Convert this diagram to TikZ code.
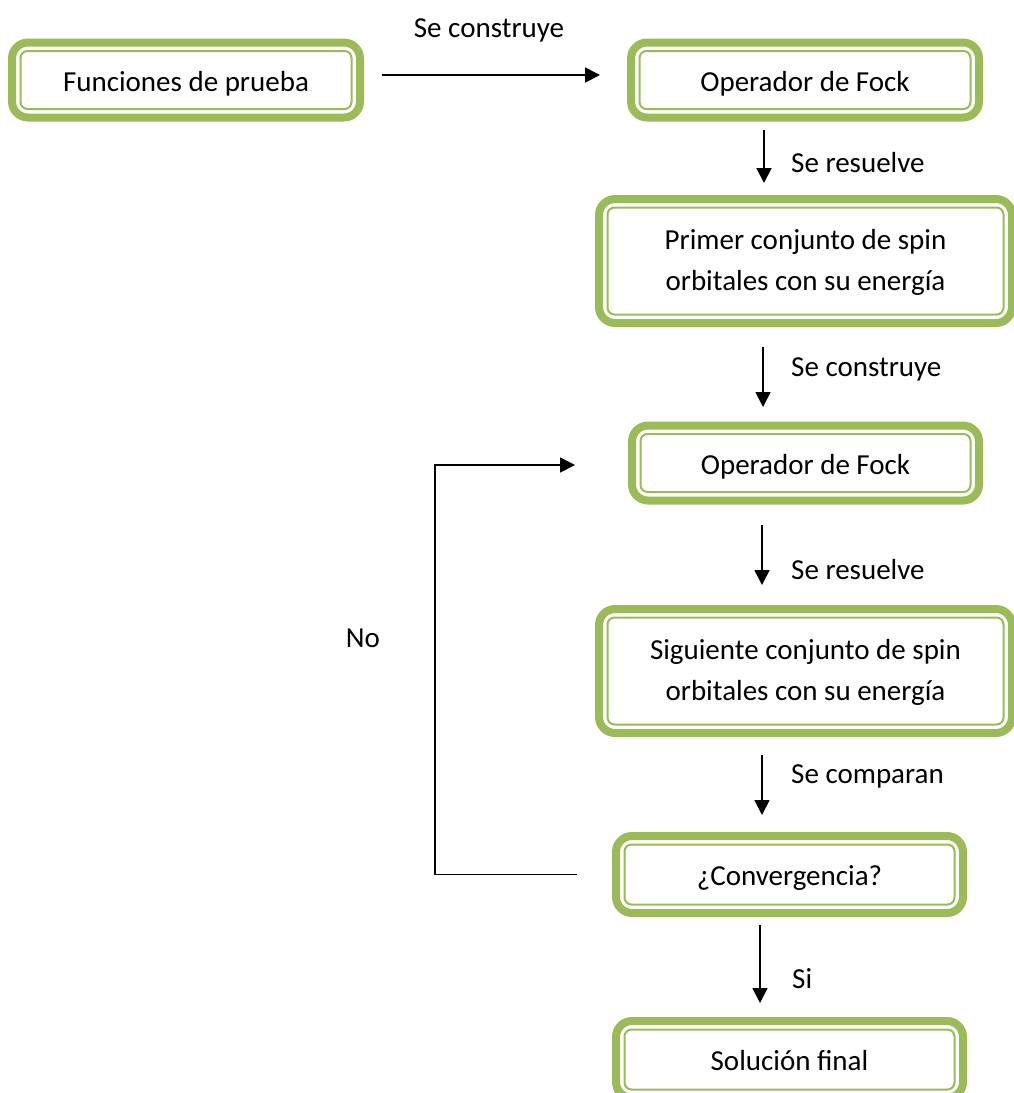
\documentclass[tikz,border=0pt]{standalone}
\usepackage{fontspec}
\setmainfont{Carlito}
\usetikzlibrary{arrows.meta}
\definecolor{boxgreen}{HTML}{9BBB59}
\tikzset{
  every node/.style={font=\fontsize{29pt}{39pt}\selectfont},
  box/.style={draw=boxgreen, line width=8pt, rounded corners=16pt, inner sep=0pt, outer sep=0pt,
    align=center, text height=26pt, text depth=4pt, fill=white},
  twoline/.style={font=\fontsize{29pt}{41pt}\selectfont, text height=63pt},
  innerbox/.style={draw=boxgreen, line width=2pt, rounded corners=7pt},
  arr/.style={line width=1.8pt, -{Triangle[length=15pt,width=15pt]}},
  lbl/.style={inner sep=0pt, anchor=base west}
}
\begin{document}
\begin{tikzpicture}[x=1pt,y=-1pt]
\useasboundingbox (0,0) rectangle (1014,1093);
\node[box, minimum width=348pt, minimum height=75pt] (b1) at (186,80) {Funciones de prueba};
\node[box, minimum width=348pt, minimum height=75pt] (b2) at (805,80) {Operador de Fock};
\node[box, twoline, minimum width=413pt, minimum height=124pt] (b3) at (805.5,261) {Primer conjunto de spin\\orbitales con su energía};
\node[box, minimum width=347pt, minimum height=75pt] (b4) at (805.5,463) {Operador de Fock};
\node[box, twoline, minimum width=413pt, minimum height=124pt] (b5) at (805.5,671) {Siguiente conjunto de spin\\orbitales con su energía};
\node[box, minimum width=347pt, minimum height=77pt] (b6) at (789.5,874.5) {¿Convergencia?};
\node[box, minimum width=347pt, minimum height=77pt] (b7) at (789.5,1059.5) {Solución final};
\foreach \n in {b1,b2,b3,b4,b5,b6,b7}
  \draw[innerbox] ([shift={(8.5pt,-8.5pt)}]\n.north west) rectangle ([shift={(-8.5pt,8.5pt)}]\n.south east);
\coordinate (c1) at (435,874.5);
\coordinate (c2) at (435,465);
\draw[arr, shorten <=22pt, shorten >=31pt] ([yshift=5pt]b1.east) -- ([yshift=5pt]b2.west);
\draw[arr, shorten <=12pt, shorten >=16pt] ([xshift=-41pt]b2.south) -- ([xshift=-41.5pt]b3.north);
\draw[arr, shorten <=24pt, shorten >=18.5pt] ([xshift=-42.5pt]b3.south) -- ([xshift=-42.5pt]b4.north);
\draw[arr, shorten <=24.5pt, shorten >=24pt] ([xshift=-43.5pt]b4.south) -- ([xshift=-43.5pt]b5.north);
\draw[arr, shorten <=22pt, shorten >=21pt] ([xshift=-43.5pt]b5.south) -- ([xshift=-27.5pt]b6.north);
\draw[arr, shorten <=12pt, shorten >=18pt] ([xshift=-29.5pt]b6.south) -- ([xshift=-29.5pt]b7.north);
\draw[arr, shorten <=39pt, shorten >=57pt] (b6.west) -- (c1) -- (c2) -- ([yshift=-2pt]b4.west);
\node[inner sep=0pt, anchor=base] (l1) at (489,37) {Se construye};
\node[lbl] (l2) at (791,172) {Se resuelve};
\node[lbl] (l3) at (791,376) {Se construye};
\node[lbl] (l4) at (791,579) {Se resuelve};
\node[lbl] (l5) at (791,783) {Se comparan};
\node[lbl] (l6) at (792,988) {Si};
\node[inner sep=0pt, anchor=base] (l7) at (363,647) {No};
\end{tikzpicture}
\end{document}
